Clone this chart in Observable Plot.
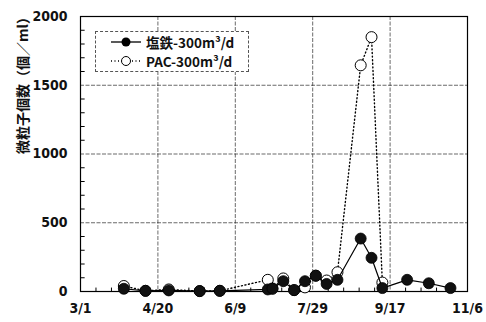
<!DOCTYPE html>
<html><head><meta charset="utf-8">
<script src="https://cdn.jsdelivr.net/npm/d3@7"></script>
<script src="https://cdn.jsdelivr.net/npm/@observablehq/plot@0.6"></script>
<style>
html,body{margin:0;padding:0;background:#fff;}
#wrap{position:relative;width:486px;height:322px;font-family:"Liberation Sans Narrow","DejaVu Sans Condensed","Liberation Sans",sans-serif;}
#legend{position:absolute;left:95px;top:31px;width:152px;height:39px;border:1px dashed #555;background:#fff;font-family:"Noto Sans CJK JP","Liberation Sans Narrow",sans-serif;font-size:13.5px;font-weight:bold;color:#111;}
#legend .row{position:absolute;left:14px;display:flex;align-items:center;height:16px;line-height:16px;}
#legend span{line-height:16px;display:inline-block;height:16px;}
#legend svg{margin-right:4px;}
</style></head>
<body><div id="wrap"><div id="chart"></div>
<div id="legend">
 <div class="row" style="top:2px"><svg width="32" height="12"><line x1="1" x2="31" y1="6" y2="6" stroke="#000" stroke-width="1.3"/><circle cx="16" cy="6" r="4.5" fill="#000"/></svg><span>塩鉄-300m³/d</span></div>
 <div class="row" style="top:21px"><svg width="32" height="12"><line x1="1" x2="31" y1="6" y2="6" stroke="#000" stroke-width="1.3" stroke-dasharray="1,2.5"/><circle cx="16" cy="6" r="4.5" fill="#fff" stroke="#000" stroke-width="1"/></svg><span>PAC-300m³/d</span></div>
</div></div>
<script>
const seriesNames = ["塩鉄-300m³/d", "PAC-300m³/d"];
const ironDates = ["2001-03-29","2001-04-12","2001-04-27","2001-05-17","2001-05-30","2001-06-30","2001-07-03","2001-07-10","2001-07-17","2001-07-24","2001-07-31","2001-08-07","2001-08-14","2001-08-29","2001-09-05","2001-09-12","2001-09-28","2001-10-12","2001-10-26"];
const ironValues = [20,5,8,3,5,15,22,75,10,75,115,55,85,385,245,25,85,60,25];
const pacDates = ["2001-03-29","2001-04-12","2001-04-27","2001-05-17","2001-05-30","2001-06-30","2001-07-03","2001-07-10","2001-07-17","2001-07-24","2001-07-31","2001-08-07","2001-08-14","2001-08-29","2001-09-05","2001-09-12"];
const pacValues = [40,5,15,3,5,85,20,95,10,30,115,80,140,1645,1850,65];
const xTickLabels = ["3/1","4/20","6/9","7/29","9/17","11/6"];
const yTicks = [0,500,1000,1500,2000];
const yLabel = "微粒子個数（個／ml）";

const parse = d3.utcParse("%Y-%m-%d");
const iron = ironDates.map((d,i)=>({date:parse(d), value:ironValues[i]}));
const pac = pacDates.map((d,i)=>({date:parse(d), value:pacValues[i]}));
const xTicks = xTickLabels.map(s=>{const [m,d]=s.split("/").map(Number);return new Date(Date.UTC(2001,m-1,d));});
const x0 = xTicks[0], x1 = xTicks[xTicks.length-1];
const minorX = d3.utcDay.range(x0, x1, 10).filter(d=>!xTicks.some(t=>+t===+d));
const minorY = d3.range(100,2000,100).filter(v=>v%500!==0);
const fmt = d => xTickLabels[xTicks.findIndex(t=>+t===+d)];

const chart = Plot.plot({
  width:486, height:322,
  marginLeft:80, marginRight:19, marginTop:16, marginBottom:31,
  style:{fontFamily:'"Liberation Sans Narrow","DejaVu Sans Condensed","Liberation Sans",sans-serif', fontSize:"14px", fontWeight:"bold", color:"#111", background:"#fff"},
  x:{type:"utc", domain:[x0,x1]},
  y:{domain:[0,2000]},
  marks:[
    Plot.gridY([500,1000,1500], {stroke:"#222", strokeOpacity:0.85, strokeDasharray:"4,1.5", strokeWidth:0.8}),
    Plot.gridX(xTicks.slice(1,-1), {stroke:"#222", strokeOpacity:0.85, strokeDasharray:"4,1.5", strokeWidth:0.8}),
    Plot.ruleY(minorY, {x1:x0, x2:d3.utcDay.offset(x0,3), stroke:"#000", strokeWidth:1}),
    Plot.ruleX(minorX, {y1:0, y2:25, stroke:"#000", strokeWidth:1}),
    Plot.frame({stroke:"#000", strokeWidth:1.2}),
    Plot.axisY({ticks:yTicks, tickFormat:d=>String(d), tickSize:0, tickPadding:13, label:null, fontSize:14, fontWeight:"bold", style:{letterSpacing:"1px"}}),
    Plot.axisX({ticks:xTicks, tickFormat:fmt, tickSize:0, tickPadding:12, label:null, fontSize:14, fontWeight:"bold", style:{letterSpacing:"1px"}}),
    Plot.text([yLabel], {frameAnchor:"left", dx:-57, rotate:-90, fontSize:14, fontWeight:"bold", fontFamily:'"Noto Sans CJK JP",sans-serif', fill:"#111"}),
    Plot.line(pac, {x:"date", y:"value", stroke:"#000", strokeWidth:1.4, strokeDasharray:"1,2.6"}),
    Plot.dot(pac, {x:"date", y:"value", r:5.5, fill:"#fff", stroke:"#000", strokeWidth:1}),
    Plot.line(iron, {x:"date", y:"value", stroke:"#000", strokeWidth:1.2}),
    Plot.dot(iron, {x:"date", y:"value", r:5.5, fill:"#111", stroke:"#000", strokeWidth:0.8})
  ]
});
document.getElementById("chart").appendChild(chart);
</script></body></html>
